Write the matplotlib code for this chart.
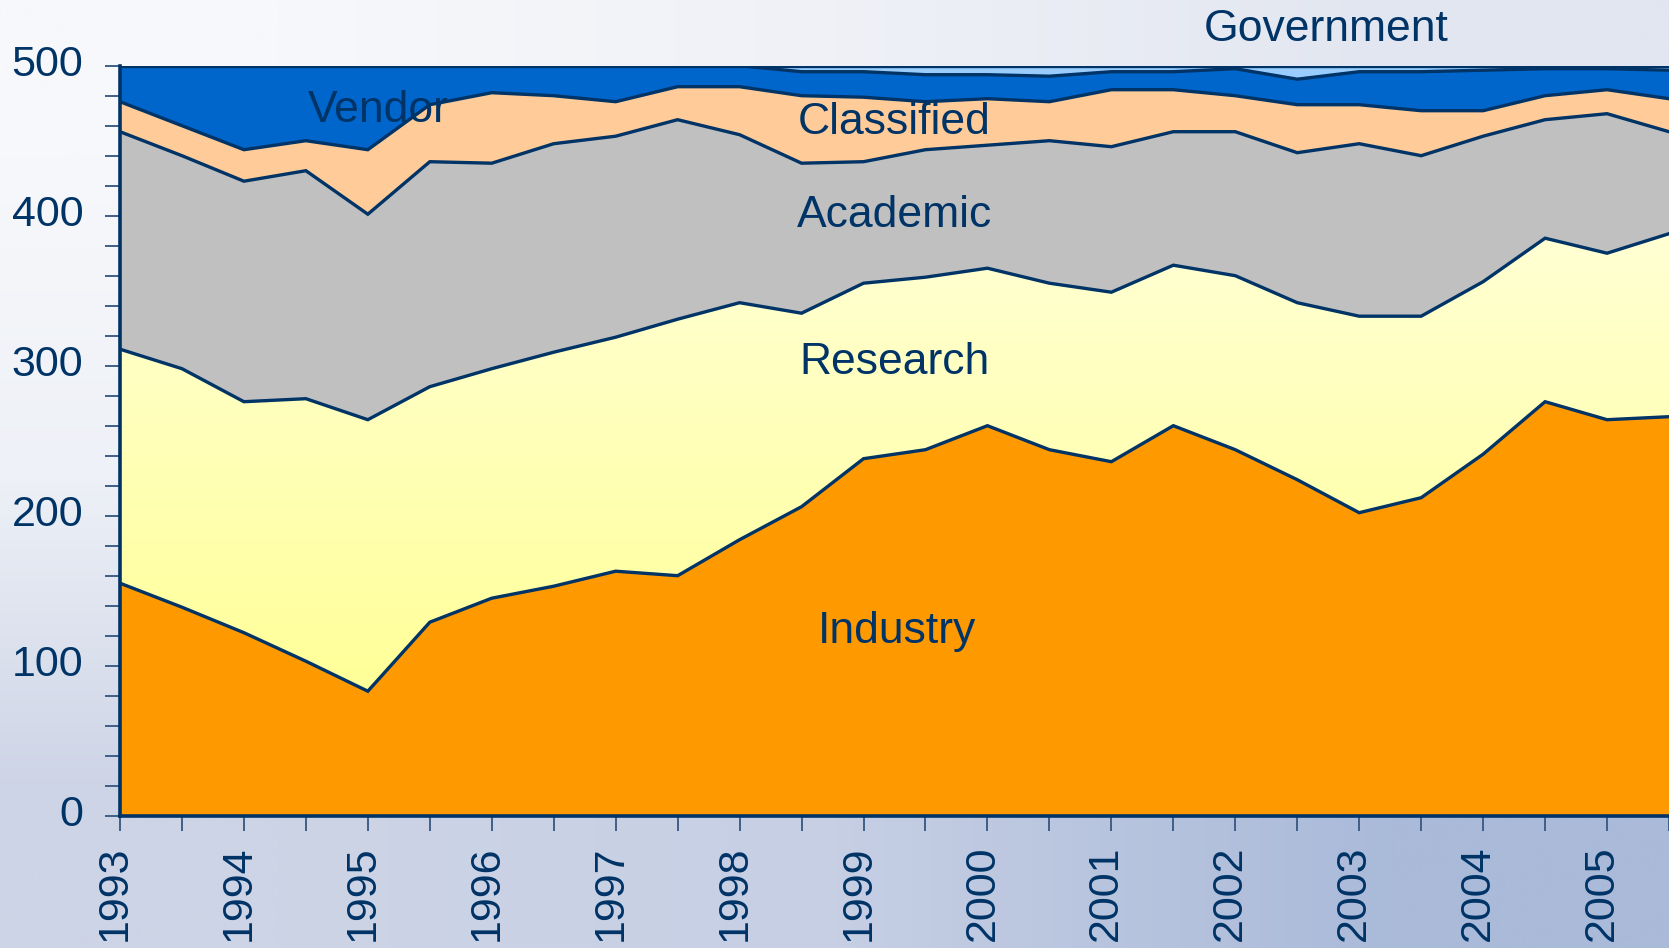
import numpy as np
import matplotlib
matplotlib.use('Agg')
import matplotlib.pyplot as plt
from matplotlib.colors import LinearSegmentedColormap, to_rgb
from matplotlib.patches import Polygon
from matplotlib.transforms import ScaledTranslation

# ---------------- data (TOP500 systems by segment) ----------------
years = [1993.0, 1993.5, 1994.0, 1994.5, 1995.0, 1995.5, 1996.0, 1996.5,
         1997.0, 1997.5, 1998.0, 1998.5, 1999.0, 1999.5, 2000.0, 2000.5,
         2001.0, 2001.5, 2002.0, 2002.5, 2003.0, 2003.5, 2004.0, 2004.5,
         2005.0, 2005.5]
industry = [155, 139, 122, 103, 83, 129, 145, 153, 163, 160, 184, 206, 238,
            244, 260, 244, 236, 260, 244, 224, 202, 212, 241, 276, 264, 266]
research = [156, 159, 154, 175, 181, 157, 153, 156, 156, 171, 158, 129, 117,
            115, 105, 111, 113, 107, 116, 118, 131, 121, 115, 109, 111, 122]
academic = [145, 142, 147, 152, 137, 150, 137, 139, 134, 133, 112, 100, 81,
            85, 82, 95, 97, 89, 96, 100, 115, 107, 97, 79, 93, 68]
classified = [20, 20, 21, 20, 43, 38, 47, 32, 23, 22, 32, 45, 43,
              32, 31, 26, 38, 28, 24, 32, 26, 30, 17, 16, 16, 22]
vendor = [24, 40, 56, 50, 56, 26, 18, 20, 24, 14, 14, 16, 17,
          18, 16, 17, 12, 12, 18, 17, 22, 26, 27, 18, 14, 19]
government = [0, 0, 0, 0, 0, 0, 0, 0, 0, 0, 0, 4, 4,
              6, 6, 7, 4, 4, 2, 9, 4, 4, 3, 2, 2, 3]

segment_names = ["Industry", "Research", "Academic", "Classified", "Vendor", "Government"]
y_ticks = [0, 100, 200, 300, 400, 500]
x_tick_years = [1993, 1994, 1995, 1996, 1997, 1998, 1999, 2000, 2001, 2002, 2003, 2004, 2005]

# ---------------- style ----------------
NAVY = "#003366"
TICKC = "#3F5F88"
colors = {
    "Industry": "#FF9900",
    "Research": "#FFFFCC",
    "Academic": "#C0C0C0",
    "Classified": "#FFCC99",
    "Vendor": "#0066CC",
    "Government": "#99CCFF",
}
FONT = "Liberation Sans"

W, H = 1669, 948
fig = plt.figure(figsize=(W / 100, H / 100), dpi=100)

# background gradient
bg = fig.add_axes([0, 0, 1, 1], zorder=-10)
bg.set_axis_off()
corners = np.array([
    [to_rgb("#F7F8FB"), to_rgb("#EFF1F7"), to_rgb("#E2E6F0")],
    [to_rgb("#EEF1F7"), to_rgb("#DDE2EE"), to_rgb("#CCD4E6")],
    [to_rgb("#CDD4E6"), to_rgb("#C6CFE4"), to_rgb("#AABAD9")],
])
bg.imshow(corners, extent=[0, 1, 0, 1], aspect="auto", interpolation="bilinear",
          origin="upper")
bg.set_xlim(0, 1)
bg.set_ylim(0, 1)

left = 120 / W
bottom = (H - 815.7) / H
height = 750 / H
ax = fig.add_axes([left, bottom, 1 - left, height])
ax.patch.set_alpha(0)

x = np.array(years)
series = [industry, research, academic, classified, vendor, government]
cum = np.zeros(len(x))
tops = []
research_band = None
for name, vals in zip(segment_names, series):
    lower = cum.copy()
    cum = cum + np.array(vals)
    if name == "Research":
        verts = np.vstack([np.column_stack([x, cum]), np.column_stack([x[::-1], lower[::-1]])])
        research_band = Polygon(verts, closed=True, facecolor="none", edgecolor="none")
        ax.add_patch(research_band)
    else:
        ax.fill_between(x, lower, cum, facecolor=colors[name], edgecolor="none",
                        linewidth=0, zorder=1)
    tops.append(cum.copy())

# research gradient fill (more saturated yellow low, paler high)
rcmap = LinearSegmentedColormap.from_list(
    "rg", [(0.0, "#FFFF99"), (0.22, "#FFFF99"), (1.0, "#FFFFD6")])
grad = np.linspace(0, 1, 256).reshape(-1, 1)
im = ax.imshow(grad, extent=[1993, 2005.5, 0, 400], origin="lower", cmap=rcmap,
               aspect="auto", zorder=1, interpolation="bilinear")
im.set_clip_path(research_band)

for t in tops:
    ax.plot(x, t, color=NAVY, lw=2.4, zorder=3, solid_joinstyle="miter")

ax.set_xlim(1993, 2005.5)
ax.set_ylim(0, 500)

for s in ["top", "right"]:
    ax.spines[s].set_visible(False)
for s in ["left", "bottom"]:
    ax.spines[s].set_color(NAVY)
    ax.spines[s].set_linewidth(2.6)
    ax.spines[s].set_zorder(4)

ax.set_yticks(y_ticks)
ax.set_yticks(np.arange(0, 501, 20), minor=True)
ax.set_xticks(x_tick_years)
ax.set_xticks(years, minor=True)
ax.set_xticklabels([str(v) for v in x_tick_years], rotation=90, fontsize=31,
                   family=FONT, color=NAVY)
ax.set_yticklabels([str(v) for v in y_ticks], fontsize=31, family=FONT, color=NAVY)
ax.tick_params(axis="both", which="both", direction="out", length=10.5, width=1.4,
               color=TICKC)
ax.tick_params(axis="x", which="major", pad=11)
ax.tick_params(axis="y", which="major", pad=16)

# small offsets matching the reference placement
for lbl in ax.get_xticklabels():
    lbl.set_transform(lbl.get_transform() + ScaledTranslation(-5 / 100, 0, fig.dpi_scale_trans))
for lbl in ax.get_yticklabels():
    lbl.set_transform(lbl.get_transform() + ScaledTranslation(0, 5 / 100, fig.dpi_scale_trans))

# segment labels
lab_kw = dict(fontsize=32, family=FONT, color=NAVY, ha="center", va="center", zorder=5)
ax.text(1995.08, 470, "Vendor", **lab_kw)
ax.text(1999.25, 462, "Classified", **lab_kw)
ax.text(1999.25, 400, "Academic", **lab_kw)
ax.text(1999.25, 302, "Research", **lab_kw)
ax.text(1999.27, 123, "Industry", **lab_kw)
ax.text(2002.73, 524, "Government", clip_on=False, **lab_kw)

fig.savefig("out.png", dpi=100)
